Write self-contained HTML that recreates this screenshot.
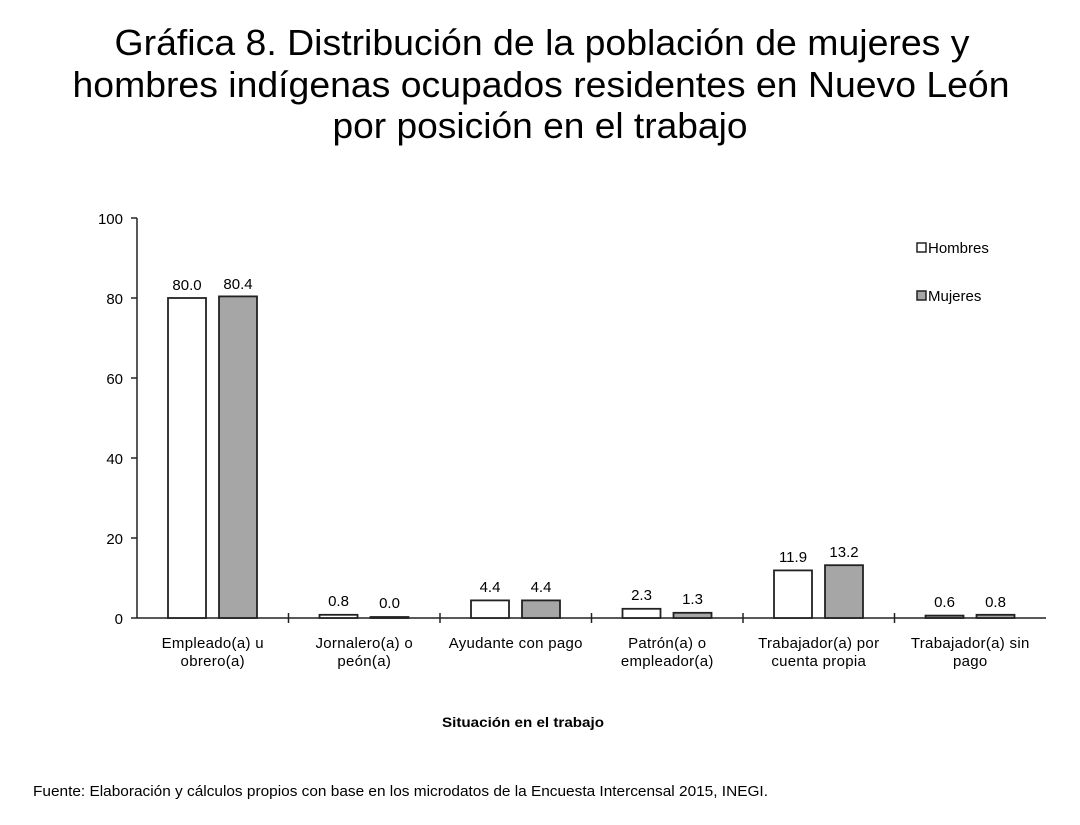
<!DOCTYPE html>
<html><head><meta charset="utf-8"><style>
html,body{margin:0;padding:0;background:#fff;}
svg{display:block;font-family:"Liberation Sans",Arial,sans-serif;}
</style></head><body>
<svg width="1080" height="825" viewBox="0 0 1080 825" xmlns="http://www.w3.org/2000/svg">
<g font-size="36" text-anchor="middle" fill="#000">
<text x="542" y="55" textLength="855" lengthAdjust="spacingAndGlyphs">Gráfica 8. Distribución de la población de mujeres y</text>
<text x="541" y="97" textLength="937" lengthAdjust="spacingAndGlyphs">hombres indígenas ocupados residentes en Nuevo León</text>
<text x="540" y="138" textLength="415" lengthAdjust="spacingAndGlyphs">por posición en el trabajo</text>
</g>
<g stroke="#222" stroke-width="1.5" fill="none">
<line x1="137" y1="218" x2="137" y2="618"/>
<line x1="137" y1="618" x2="1046" y2="618"/>
<line x1="131" y1="218" x2="137" y2="218"/>
<line x1="131" y1="298" x2="137" y2="298"/>
<line x1="131" y1="378" x2="137" y2="378"/>
<line x1="131" y1="458" x2="137" y2="458"/>
<line x1="131" y1="538" x2="137" y2="538"/>
<line x1="131" y1="618" x2="137" y2="618"/>
<line x1="288.5" y1="613" x2="288.5" y2="623"/>
<line x1="440" y1="613" x2="440" y2="623"/>
<line x1="591.5" y1="613" x2="591.5" y2="623"/>
<line x1="743" y1="613" x2="743" y2="623"/>
<line x1="894.5" y1="613" x2="894.5" y2="623"/>
</g>
<g font-size="15" text-anchor="end" fill="#000">
<text x="123" y="224">100</text>
<text x="123" y="304">80</text>
<text x="123" y="384">60</text>
<text x="123" y="464">40</text>
<text x="123" y="544">20</text>
<text x="123" y="624">0</text>
</g>
<g stroke="#222" stroke-width="1.8">
<rect x="168" y="298" width="38" height="320" fill="#fff"/>
<rect x="219" y="296.4" width="38" height="321.6" fill="#a6a6a6"/>
<rect x="319.5" y="614.8" width="38" height="3.2" fill="#fff"/>
<rect x="370.5" y="617" width="38" height="1" fill="#a6a6a6"/>
<rect x="471" y="600.4" width="38" height="17.6" fill="#fff"/>
<rect x="522" y="600.4" width="38" height="17.6" fill="#a6a6a6"/>
<rect x="622.5" y="608.8" width="38" height="9.2" fill="#fff"/>
<rect x="673.5" y="612.8" width="38" height="5.2" fill="#a6a6a6"/>
<rect x="774" y="570.4" width="38" height="47.6" fill="#fff"/>
<rect x="825" y="565.2" width="38" height="52.8" fill="#a6a6a6"/>
<rect x="925.5" y="615.6" width="38" height="2.4" fill="#a6a6a6"/>
<rect x="976.5" y="614.8" width="38" height="3.2" fill="#a6a6a6"/>
</g>
<g font-size="15" text-anchor="middle" fill="#000">
<text x="187" y="290">80.0</text>
<text x="238" y="289">80.4</text>
<text x="338.5" y="606">0.8</text>
<text x="389.5" y="608">0.0</text>
<text x="490" y="592">4.4</text>
<text x="541" y="592">4.4</text>
<text x="641.5" y="600">2.3</text>
<text x="692.5" y="604">1.3</text>
<text x="793" y="562">11.9</text>
<text x="844" y="557">13.2</text>
<text x="944.5" y="607">0.6</text>
<text x="995.5" y="607">0.8</text>
</g>
<g font-size="15" text-anchor="middle" fill="#000" letter-spacing="0.3">
<text x="212.75" y="648">Empleado(a) u</text>
<text x="212.75" y="666">obrero(a)</text>
<text x="364.25" y="648">Jornalero(a) o</text>
<text x="364.25" y="666">peón(a)</text>
<text x="515.75" y="648">Ayudante con pago</text>
<text x="667.25" y="648">Patrón(a) o</text>
<text x="667.25" y="666">empleador(a)</text>
<text x="818.75" y="648">Trabajador(a) por</text>
<text x="818.75" y="666">cuenta propia</text>
<text x="970.25" y="648">Trabajador(a) sin</text>
<text x="970.25" y="666">pago</text>
</g>
<rect x="917" y="243" width="9" height="9" fill="#fff" stroke="#222" stroke-width="1.5"/>
<text x="928" y="253" font-size="15">Hombres</text>
<rect x="917" y="291" width="9" height="9" fill="#a6a6a6" stroke="#222" stroke-width="1.5"/>
<text x="928" y="301" font-size="15">Mujeres</text>
<text x="523" y="727" font-size="14" font-weight="bold" text-anchor="middle" textLength="162" lengthAdjust="spacingAndGlyphs">Situación en el trabajo</text>
<text x="33" y="796" font-size="15" textLength="735" lengthAdjust="spacingAndGlyphs">Fuente: Elaboración y cálculos propios con base en los microdatos de la Encuesta Intercensal 2015, INEGI.</text>
</svg>
</body></html>
